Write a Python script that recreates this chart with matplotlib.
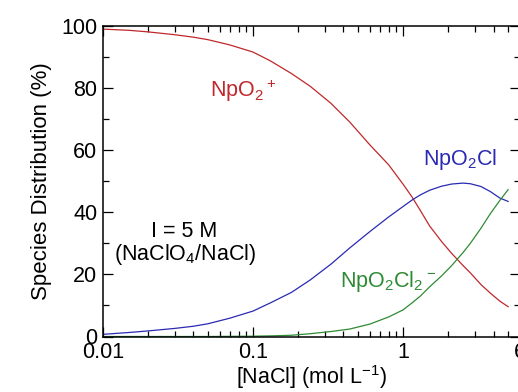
import matplotlib
matplotlib.use("Agg")
import matplotlib.pyplot as plt
import numpy as np

plt.rcParams["font.family"] = ["Liberation Sans", "DejaVu Sans"]
plt.rcParams["mathtext.default"] = "regular"

# [NaCl] in mol/L
nacl = [0.01, 0.015, 0.02, 0.03, 0.04, 0.05, 0.07, 0.1, 0.13, 0.18, 0.24,
        0.33, 0.44, 0.6, 0.8, 1.0, 1.15, 1.3, 1.5, 1.8, 2.1, 2.5, 2.8, 3.3,
        3.8, 4.4, 5.0]

# species distribution (%)
npo2 = [99.0, 98.6, 98.1, 97.2, 96.4, 95.6, 93.9, 91.6, 88.8, 84.7, 80.6,
        75.1, 69.1, 61.7, 55.3, 49.0, 44.8, 40.6, 35.6, 30.6, 26.8, 22.9,
        20.5, 16.7, 14.0, 11.4, 9.6]
npo2cl = [0.7, 1.3, 1.8, 2.6, 3.3, 4.1, 5.9, 8.2, 10.8, 14.2, 18.2,
          23.3, 28.5, 33.8, 38.5, 41.9, 44.0, 45.6, 47.1, 48.4, 49.1, 49.4,
          49.2, 48.3, 46.7, 44.6, 43.5]
npo2cl2 = [0.0, 0.0, 0.0, 0.0, 0.0, 0.0, 0.05, 0.1, 0.2, 0.4, 0.9,
           1.6, 2.4, 4.0, 6.3, 8.6, 10.9, 13.0, 16.0, 19.5, 22.8, 27.0,
           30.0, 34.9, 39.5, 43.8, 47.3]

xticks = [0.01, 0.1, 1, 6]
xticklabels = ["0.01", "0.1", "1", "6"]
yticks = [0, 20, 40, 60, 80, 100]

red = "#c0282c"
blue = "#2a2ab4"
green = "#2e8b34"

fig = plt.figure(figsize=(5.18, 3.92), dpi=100)
# right spine sits just past the edge of the picture, like the original
ax = fig.add_axes([103 / 518, 55.5 / 392, 417 / 518, 310.5 / 392])

ax.plot(nacl, npo2, color=red, lw=0.9)
ax.plot(nacl, npo2cl, color=blue, lw=0.9)
ax.plot(nacl, npo2cl2, color=green, lw=0.9)

ax.set_xscale("log")
ax.set_xlim(0.01, 6)
ax.set_ylim(0, 100)
ax.set_xticks(xticks)
ax.set_xticklabels(xticklabels)
ax.set_yticks(yticks)
ax.set_yticks([10, 30, 50, 70, 90], minor=True)

ax.tick_params(which="both", direction="in", top=True, right=True,
               labelsize=15.5, width=0.9)
ax.tick_params(which="major", length=7, pad=4)
ax.tick_params(which="minor", length=4)
for s in ax.spines.values():
    s.set_linewidth(1.1)

ax.set_xlabel("[NaCl] (mol L$^{-1}$)", fontsize=15.5, labelpad=0)
ax.set_ylabel("Species Distribution (%)", fontsize=16, labelpad=7)

ax.text(0.0517, 77.2, "NpO$_2$$^+$", color=red, fontsize=15.5)
ax.text(1.36, 55.3, "NpO$_2$Cl", color=blue, fontsize=15.5)
ax.text(0.38, 16.1, "NpO$_2$Cl$_2$$^-$", color=green, fontsize=15.5)
ax.text(0.0347, 32.1, "I = 5 M", fontsize=15.5, ha="center")
ax.text(0.0355, 24.7, "(NaClO$_4$/NaCl)", fontsize=15.5, ha="center")

fig.savefig("out.png", dpi=100)
